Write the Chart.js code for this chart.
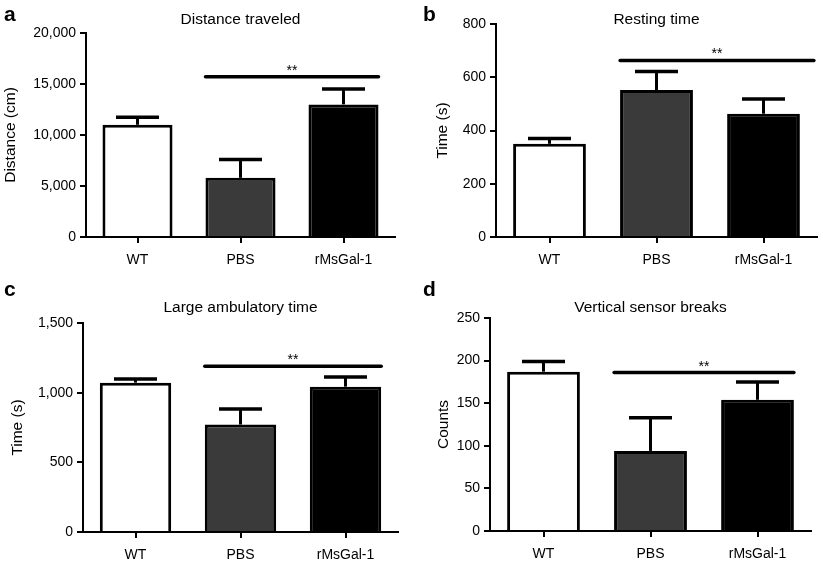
<!DOCTYPE html>
<html>
<head>
<meta charset="utf-8">
<script src="https://cdn.jsdelivr.net/npm/chart.js@4.4.1/dist/chart.umd.min.js"></script>
<style>
  body { margin: 0; background: #fff; }
  #wrap { position: relative; width: 823px; height: 562px; overflow: hidden; }
  #wrap canvas { position: absolute; }
</style>
</head>
<body>
<div id="wrap">
  <canvas id="chartA" style="left:0;top:0"></canvas>
  <canvas id="chartB" style="left:410px;top:0"></canvas>
  <canvas id="chartC" style="left:0;top:270px"></canvas>
  <canvas id="chartD" style="left:410px;top:270px"></canvas>
</div>
<script>
// ---------------- data ----------------
const groups = ["WT", "PBS", "rMsGal-1"];
const barColors = ["#ffffff", "#3a3a3a", "#000000"];

// a - distance traveled (cm)
const distanceMean = [11000, 5800, 13000];
const distanceSem = [750, 1800, 1500];
const distanceSig = 15700;
const distanceTicks = [0, 5000, 10000, 15000, 20000];

// b - resting time (s)
const restingMean = [350, 552, 463];
const restingSem = [20, 70, 55];
const restingSig = 663;
const restingTicks = [0, 200, 400, 600, 800];

// c - large ambulatory time (s)
const ambulatoryMean = [1072, 771, 1043];
const ambulatorySem = [26, 112, 69];
const ambulatorySig = 1189;
const ambulatoryTicks = [0, 500, 1000, 1500];

// d - vertical sensor breaks
const verticalMean = [187, 94, 154];
const verticalSem = [12, 39, 21];
const verticalSig = 186;
const verticalTicks = [0, 50, 100, 150, 200, 250];

const FONT = "'Liberation Sans', Arial, sans-serif";
Chart.defaults.font.family = FONT;
Chart.defaults.font.size = 14;
Chart.defaults.color = "#000";

// error bars, significance line, titles, panel letters
const panelDecor = {
  id: "panelDecor",
  afterDatasetsDraw(chart, args, opts) {
    const { ctx, chartArea, scales: { y } } = chart;
    const meta = chart.getDatasetMeta(0);
    ctx.save();
    ctx.strokeStyle = "#000";
    ctx.fillStyle = "#000";
    ctx.lineWidth = 3;

    opts.sem.forEach((e, i) => {
      const bar = meta.data[i];
      const top = y.getPixelForValue(opts.mean[i] + e);
      ctx.lineWidth = 3;
      ctx.beginPath();
      ctx.moveTo(bar.x, bar.y);
      ctx.lineTo(bar.x, top);
      ctx.stroke();
      ctx.lineWidth = 3.5;
      ctx.beginPath();
      ctx.moveTo(bar.x - 21.5, top);
      ctx.lineTo(bar.x + 21.5, top);
      ctx.stroke();
    });

    const ys = y.getPixelForValue(opts.sig);
    const x1 = meta.data[1].x - meta.data[1].width / 2;
    const x2 = meta.data[2].x + meta.data[2].width / 2 + (opts.sigExtra || 0);
    ctx.lineWidth = 3.5;
    ctx.lineCap = "round";
    ctx.beginPath();
    ctx.moveTo(x1, ys);
    ctx.lineTo(x2, ys);
    ctx.stroke();
    ctx.font = "14px " + FONT;
    ctx.textAlign = "center";
    ctx.textBaseline = "alphabetic";
    ctx.fillText("**", (x1 + x2) / 2, ys - 2);

    ctx.font = "15.5px " + FONT;
    ctx.textBaseline = "middle";
    ctx.fillText(opts.title, (chartArea.left + chartArea.right) / 2, opts.titleY);

    ctx.font = "bold 21px " + FONT;
    ctx.textAlign = "left";
    ctx.fillText(opts.letter, opts.letterX, opts.letterY);
    ctx.restore();
  }
};

function makePanel(id, w, h, cfg) {
  const canvas = document.getElementById(id);
  canvas.width = w;
  canvas.height = h;
  canvas.style.width = w + "px";
  canvas.style.height = h + "px";
  return new Chart(canvas, {
    type: "bar",
    data: {
      labels: groups,
      datasets: [{
        data: cfg.mean,
        backgroundColor: barColors,
        borderColor: "#000",
        borderWidth: 3,
        borderSkipped: "bottom",
        barPercentage: 0.68,
        categoryPercentage: 1
      }]
    },
    options: {
      responsive: false,
      animation: false,
      devicePixelRatio: 1,
      layout: { padding: { top: cfg.top, right: cfg.right, left: 0, bottom: 0 } },
      plugins: {
        legend: { display: false },
        tooltip: { enabled: false },
        panelDecor: {
          mean: cfg.mean, sem: cfg.sem, sig: cfg.sig, sigExtra: cfg.sigExtra,
          title: cfg.title, titleY: cfg.titleY,
          letter: cfg.letter, letterX: cfg.letterX, letterY: cfg.letterY
        }
      },
      scales: {
        x: {
          grid: { display: true, offset: false, drawOnChartArea: false, drawTicks: true, tickLength: 6, color: "#000", lineWidth: 2 },
          border: { display: true, color: "#000", width: 2 },
          ticks: { padding: 9, font: { size: 14 }, color: "#000" },
          afterFit: (scale) => { scale.height = h - cfg.bottom; }
        },
        y: {
          min: 0,
          max: cfg.ticks[cfg.ticks.length - 1],
          afterBuildTicks: (scale) => { scale.ticks = cfg.ticks.map(v => ({ value: v })); },
          grid: { display: true, drawOnChartArea: false, drawTicks: true, tickLength: 6, color: "#000", lineWidth: 2 },
          border: { display: true, color: "#000", width: 2 },
          ticks: { padding: 4, font: { size: 14 }, color: "#000" },
          title: { display: true, text: cfg.yTitle, font: { size: 15.5 }, color: "#000", padding: { top: cfg.yTitlePad, bottom: 0 } },
          afterFit: (scale) => { scale.width = cfg.left; }
        }
      }
    },
    plugins: [panelDecor]
  });
}

makePanel("chartA", 410, 270, {
  mean: distanceMean, sem: distanceSem, sig: distanceSig, ticks: distanceTicks,
  yTitle: "Distance (cm)", yTitlePad: 1,
  title: "Distance traveled", titleY: 20, letter: "a", letterX: 4, letterY: 15,
  left: 86, right: 15, top: 33, bottom: 237
});

makePanel("chartB", 413, 270, {
  mean: restingMean, sem: restingSem, sig: restingSig, ticks: restingTicks, sigExtra: 14,
  yTitle: "Time (s)", yTitlePad: 23,
  title: "Resting time", titleY: 20, letter: "b", letterX: 13, letterY: 15,
  left: 86, right: 6, top: 24, bottom: 237
});

makePanel("chartC", 410, 292, {
  mean: ambulatoryMean, sem: ambulatorySem, sig: ambulatorySig, ticks: ambulatoryTicks,
  yTitle: "Time (s)", yTitlePad: 8,
  title: "Large ambulatory time", titleY: 38, letter: "c", letterX: 4, letterY: 20,
  left: 83, right: 12, top: 53, bottom: 262
});

makePanel("chartD", 413, 292, {
  mean: verticalMean, sem: verticalSem, sig: verticalSig, ticks: verticalTicks,
  yTitle: "Counts", yTitlePad: 24,
  title: "Vertical sensor breaks", titleY: 38, letter: "d", letterX: 13, letterY: 20,
  left: 80, right: 12, top: 48, bottom: 261
});
</script>
</body>
</html>
